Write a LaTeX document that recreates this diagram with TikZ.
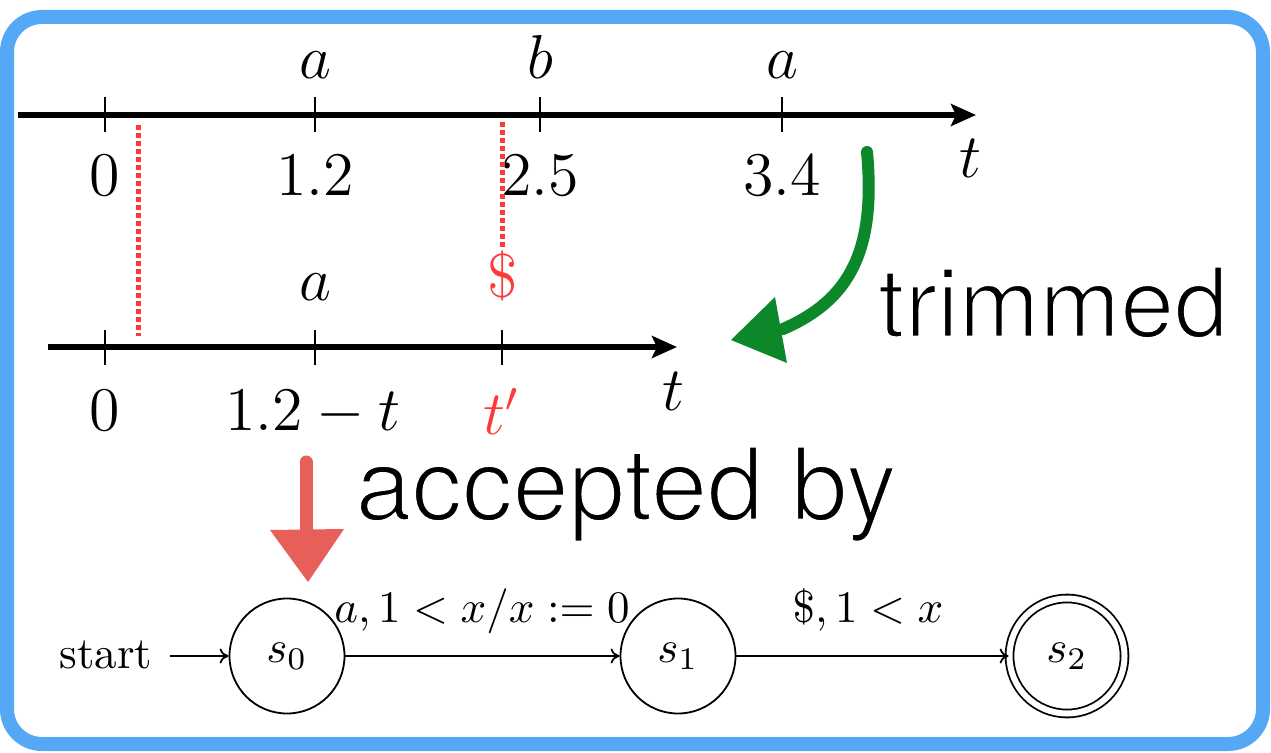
\documentclass[tikz,border=0pt]{standalone}
\usepackage{fontspec}
\newfontfamily\helv{TeX Gyre Heros}
\usetikzlibrary{arrows.meta}
\definecolor{bordblue}{RGB}{85,168,245}
\definecolor{dotred}{RGB}{252,58,58}
\definecolor{handgreen}{RGB}{12,136,42}
\definecolor{handred}{RGB}{232,94,88}
\newcommand\thintext[1]{\special{pdf:literal direct 2 Tr 1 1 1 RG 2.6 w}#1\special{pdf:literal direct 0 Tr 0 G 0.4 w}}
\begin{document}
\begin{tikzpicture}[x=1pt,y=-1pt,
  axisline/.style={line width=5.2pt,-{Stealth[length=25pt,width=22pt,inset=5pt]}},
  axtick/.style={line width=2.2pt},
  biglbl/.style={font=\fontsize{12}{14}\selectfont,scale=5.17,inner sep=0pt,anchor=base},
  autlbl/.style={font=\fontsize{10}{12}\selectfont,scale=4.5,inner sep=0pt,anchor=base},
  autstate/.style={circle,draw,line width=1.8pt,minimum size=115pt,inner sep=0pt},
  accstate/.style={autstate,double,double distance=6pt},
  trans/.style={line width=1.8pt,-{To[length=9pt,width=15pt]}},
  dotline/.style={dotred,line width=5pt,dash pattern=on 4.5pt off 3.5pt},
  handtxt/.style={font=\helv\fontsize{97}{100}\selectfont,inner sep=0pt,anchor=base},
  handgr/.style={handgreen,line width=12pt,line cap=round},
  handrd/.style={handred,line width=13pt,line cap=round}
]
\useasboundingbox (0,0) rectangle (1271,752);
% border
\draw[bordblue,line width=14pt,rounded corners=35pt] (7,17) rectangle (1263,744);

% top axis
\coordinate (a1s) at (18,115);
\coordinate (a1e) at (976,115);
\draw[axisline] (a1s) -- (a1e);
\foreach \x in {105,315,540,782} \draw[axtick] (\x,97) -- (\x,132);
\node[biglbl] (ta1) at (315,78) {$a$};
\node[biglbl] (tb) at (540,78) {$b$};
\node[biglbl] (ta2) at (782,78) {$a$};
\node[biglbl] (n0) at (105,195) {$0$};
\node[biglbl] (n12) at (315,195) {$1.2$};
\node[biglbl] (n25) at (540,195) {$2.5$};
\node[biglbl] (n34) at (782,195) {$3.4$};
\node[biglbl] (tt1) at (970,177) {$t$};

% red dotted lines
\coordinate (d1a) at (138,125);
\coordinate (d1b) at (138,336);
\coordinate (d2a) at (502,122);
\coordinate (d2b) at (502,250);
\draw[dotline] (d1a) -- (d1b);
\draw[dotline] (d2a) -- (d2b);

% bottom axis
\coordinate (a2s) at (48,347);
\coordinate (a2e) at (677,347);
\draw[axisline] (a2s) -- (a2e);
\foreach \x in {105,315,502} \draw[axtick] (\x,330) -- (\x,365);
\node[biglbl] (ba) at (315,300) {$a$};
\node[biglbl,text=dotred] (dol) at (503,297) {\$};
\node[biglbl] (m0) at (105,430) {$0$};
\node[biglbl] (m12) at (313,430) {$1.2-t$};
\node[biglbl,text=dotred] (mtp) at (502,434) {$t'$};
\node[biglbl] (tt2) at (673,410) {$t$};

% green hand arrow
\draw[handgr] (867,152) .. controls (876,250) and (850,300) .. (783,329);
\fill[handgreen] (731,340) -- (775,297) -- (787,363) -- cycle;

% red hand arrow
\draw[handrd] (306,462) -- (306,532);
\fill[handred] (270,530) -- (344,529) -- (308,582) -- cycle;

% automaton
\node[autstate] (s0) at (287,656) {\scalebox{4.5}{$s_0$}};
\node[autstate] (s1) at (678,656) {\scalebox{4.5}{$s_1$}};
\node[accstate] (s2) at (1067,656) {\scalebox{4.5}{$s_2$}};
\node[autlbl] (start) at (106,668) {start};
\coordinate (stc) at (170,656);
\draw[trans] (stc) -- (s0.west);
\draw[trans] (s0) -- (s1);
\draw[trans] (s1) -- (s2);
\node[autlbl] (l1) at (482,622) {$a,1<x/x:=0$};
\node[autlbl] (l2) at (868,622) {$\$,1<x$};

% big sans captions
\node[handtxt] (trim) at (1053,337) {\thintext{trimmed}};
\node[handtxt,font=\helv\fontsize{101}{104}\selectfont] (acc) at (626,520) {\thintext{accepted by}};
\end{tikzpicture}
\end{document}
